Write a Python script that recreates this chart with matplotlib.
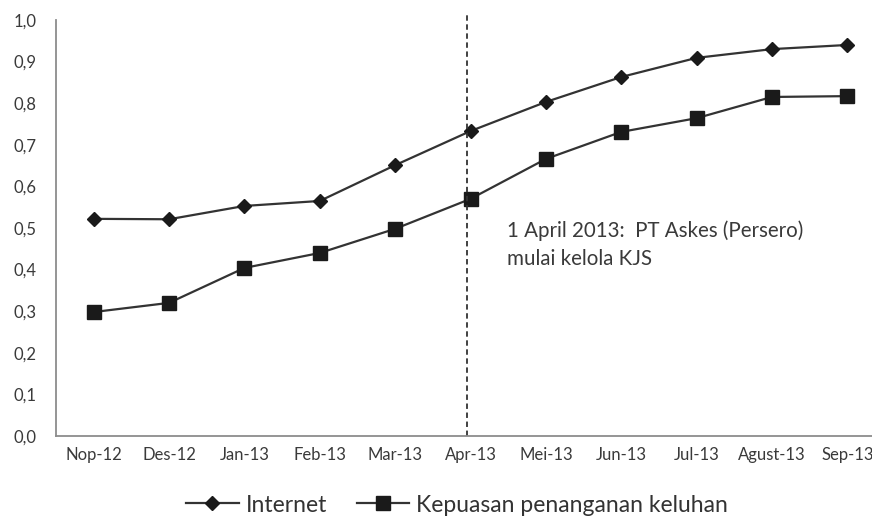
import matplotlib.pyplot as plt
from matplotlib.lines import Line2D

months = ['Nop-12', 'Des-12', 'Jan-13', 'Feb-13', 'Mar-13', 'Apr-13',
          'Mei-13', 'Jun-13', 'Jul-13', 'Agust-13', 'Sep-13']
internet = [0.522, 0.521, 0.553, 0.565, 0.651, 0.733, 0.803, 0.863, 0.909, 0.930, 0.940]
kepuasan = [0.298, 0.320, 0.404, 0.440, 0.498, 0.570, 0.666, 0.731, 0.764, 0.815, 0.817]
y_ticks = [0.0, 0.1, 0.2, 0.3, 0.4, 0.5, 0.6, 0.7, 0.8, 0.9, 1.0]

plt.rcParams['font.family'] = ['Lato', 'DejaVu Sans']

fig = plt.figure(figsize=(8.72, 5.17), dpi=100)
ax = fig.add_axes([56 / 872, 1 - 436 / 517, 829 / 872, 416 / 517])

x = list(range(len(months)))
ax.plot(x, internet, color='#333333', lw=1.6, marker='D', ms=7,
        mfc='#1a1a1a', mec='#1a1a1a')
ax.plot(x, kepuasan, color='#333333', lw=1.6, marker='s', ms=10.5,
        mfc='#1a1a1a', mec='#1a1a1a')

ax.plot([4.96, 4.96], [0, 1.012], color='#333333', lw=1.3, ls=(0, (3, 2)),
        clip_on=False)

ax.text(5.49, 0.46, '1 April 2013:  PT Askes (Persero)\nmulai kelola KJS',
        fontsize=14.8, color='#3a3a3a', va='center', ha='left', linespacing=1.45)

ax.set_xlim(-0.5, 10.5)
ax.set_ylim(0, 1.0)
ax.set_xticks(x)
ax.set_xticklabels(months)
ax.set_yticks(y_ticks)
ax.set_yticklabels([f'{v:.1f}'.replace('.', ',') for v in y_ticks])
ax.tick_params(length=0, labelsize=12, colors='#3a3a3a', pad=8)
ax.tick_params(axis='y', pad=14)
for s in ['top', 'right']:
    ax.spines[s].set_visible(False)
for s in ['left', 'bottom']:
    ax.spines[s].set_color('#8c8c8c')
    ax.spines[s].set_linewidth(1.3)

handles = [
    Line2D([], [], color='#333333', lw=1.6, marker='D', ms=7, mfc='#1a1a1a', mec='#1a1a1a'),
    Line2D([], [], color='#333333', lw=1.6, marker='s', ms=10.5, mfc='#1a1a1a', mec='#1a1a1a'),
]
fig.legend(handles, ['Internet', 'Kepuasan penanganan keluhan'], loc='center',
           bbox_to_anchor=(457 / 872, 1 - 505 / 517), ncol=2, frameon=False,
           fontsize=16.5, labelcolor='#333333', handlelength=2.3, columnspacing=1.3,
           handletextpad=0.3)

fig.savefig('out.png', dpi=100)
